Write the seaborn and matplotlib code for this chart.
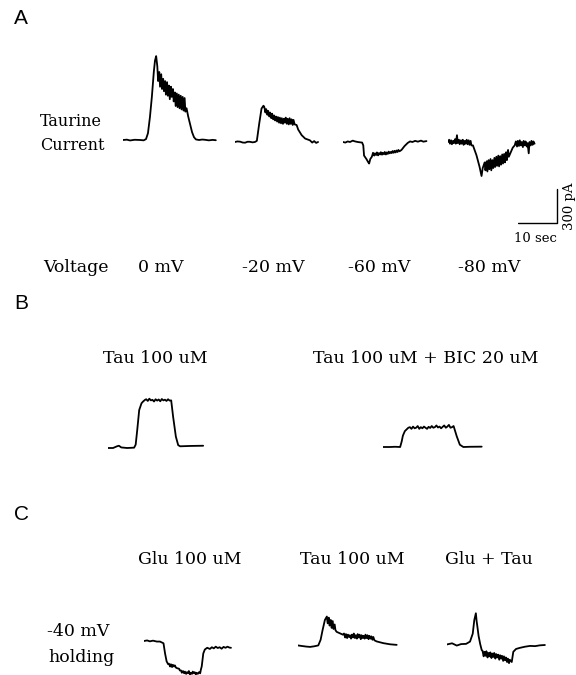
import matplotlib
matplotlib.use("Agg")
import matplotlib.pyplot as plt
import pandas as pd
import seaborn as sns

# ---------------- data (time in s, current in pA) ----------------
A_LABELS = ["0 mV", "-20 mV", "-60 mV", "-80 mV"]

A1_TRACE = [(0, 0), (1, 3), (1.8, -4), (3, 2), (4.4, 0), (5.3, -3), (5.9, 8), (6.4, 60), (6.9, 200),
            (7.4, 380), (7.9, 600), (8.2, 700), (8.5, 740), (8.7, 680),
            (8.8, 650), (9.0, 520), (9.3, 600), (9.5, 470), (9.8, 580), (10.0, 450), (10.3, 540), (10.5, 430),
            (10.8, 520), (11.0, 400), (11.3, 510), (11.5, 390), (11.8, 480), (12.0, 360), (12.3, 470),
            (12.5, 380), (12.8, 450), (13.0, 340), (13.3, 420), (13.5, 300), (13.8, 410), (14.0, 290),
            (14.3, 400), (14.5, 280), (14.8, 390), (15.0, 270), (15.3, 380), (15.5, 260), (15.8, 370),
            (16.0, 250),
            (16.3, 280), (16.7, 210), (17.2, 140), (17.7, 70), (18.2, 25), (18.7, 5), (19.5, 0), (20.3, 4),
            (21, 2), (22, -3), (23, 1), (23.8, -2)]

A2_TRACE = [(0, 0), (0.6, 5), (1.3, 3), (2, -5), (2.6, -6), (3.2, 2), (3.8, 2), (4.5, -3), (5.1, 0),
            (5.6, 10), (6.2, 160), (6.8, 295), (7.3, 320),
            (7.5, 310), (7.8, 260), (8.0, 290), (8.3, 240), (8.5, 275), (8.8, 225), (9.0, 260), (9.3, 210),
            (9.5, 250), (9.8, 200), (10.0, 235), (10.3, 190), (10.5, 225), (10.8, 180), (11.0, 220),
            (11.3, 170), (11.5, 215), (11.8, 165), (12.0, 210), (12.3, 160), (12.5, 205), (12.8, 170),
            (13.0, 215), (13.3, 160), (13.5, 205), (13.8, 155), (14.0, 210), (14.3, 160), (14.5, 200),
            (14.8, 150), (15.0, 195), (15.3, 155),
            (15.8, 150), (16.2, 110), (17.1, 60), (18.0, 30), (19.2, 15), (19.8, -5), (20.3, 8), (20.8, -8),
            (21.3, 0)]

A3_TRACE = [(0, 0), (0.6, -5), (1.2, 5), (1.8, 0), (2.5, 12), (3.1, 5), (3.8, 0), (4.4, -3), (4.9, -5),
            (5.2, -30), (5.4, -120), (6.0, -150), (6.5, -180), (6.7, -190), (7.0, -150), (7.4, -130),
            (7.7, -95), (8.0, -120), (8.2, -100), (8.5, -115), (8.7, -92), (9.0, -118), (9.2, -98),
            (9.5, -110), (9.7, -90), (10.0, -112), (10.2, -95), (10.5, -108), (10.7, -88), (11.0, -110),
            (11.2, -92), (11.5, -105), (11.7, -85), (12.0, -100), (12.2, -88), (12.5, -98), (12.7, -80),
            (13.0, -95), (13.2, -78), (13.5, -92), (13.7, -75), (14.0, -88), (14.2, -70), (14.5, -82),
            (15.0, -70), (15.8, -35), (16.6, -8), (17.2, 5), (17.8, 0), (18.5, 10), (19.2, 3), (20.0, 12),
            (20.6, 3), (21.4, 8)]

A4_TRACE = [(0, 0), (0.3, 20), (0.5, -15), (0.8, 15), (1.0, -20), (1.3, 10), (1.5, -10), (1.8, 25),
            (2.0, -15), (2.3, 60), (2.5, -10), (2.8, 20), (3.0, -20), (3.3, 15), (3.5, -15), (3.8, 20),
            (4.0, -25), (4.3, 10), (4.5, -15), (4.8, 20), (5.0, -20), (5.3, 15), (5.5, -25), (5.8, 10),
            (6.0, -30),
            (6.4, -30), (7.3, -117), (8.1, -220), (8.6, -300), (8.9, -230), (9.4, -180),
            (9.6, -250), (9.9, -170), (10.1, -260), (10.4, -160), (10.6, -240), (10.9, -150), (11.1, -250),
            (11.4, -160), (11.6, -230), (11.9, -140), (12.1, -220), (12.4, -130), (12.6, -210), (12.9, -120),
            (13.1, -215), (13.4, -125), (13.6, -200), (13.9, -110), (14.1, -190), (14.4, -105), (14.6, -180),
            (14.9, -90), (15.1, -160), (15.4, -70), (15.6, -130),
            (16.6, -50), (17.1, -30),
            (17.4, 5), (17.7, -40), (17.9, 10), (18.2, -35), (18.4, 15), (18.7, -30), (18.9, 0), (19.2, -45),
            (19.4, 10), (19.7, -30), (19.9, 5), (20.2, -40), (20.4, -10), (20.7, -100), (20.9, 0), (21.2, -30),
            (21.4, 10), (21.7, -25), (21.9, 5), (22.2, -15)]

B_LABELS = ["Tau 100 uM", "Tau 100 uM + BIC 20 uM"]

B1_TRACE = [(0, 0), (1.3, 0), (2.3, 15), (2.8, 20), (3.4, 5), (4.9, 0), (6.7, 3), (7.1, 30), (7.5, 160),
            (8.0, 335), (8.6, 395), (9.0, 410), (9.5, 425),
            (9.8, 430), (10.2, 415), (10.6, 435), (11.0, 420), (11.4, 425), (11.8, 410), (12.2, 430),
            (12.6, 418), (13.0, 428), (13.4, 412), (13.8, 432), (14.2, 420), (14.6, 426), (15.0, 415),
            (15.4, 430), (15.8, 418),
            (16.2, 420), (16.7, 275), (17.4, 100), (18.0, 25), (18.5, 15), (21.0, 18), (24.4, 20)]

B2_TRACE = [(0, 0), (1.8, 0), (3.1, 2), (4.4, 0), (4.8, 50), (5.1, 100), (5.6, 140), (6.5, 170),
            (6.9, 175), (7.3, 160), (7.7, 180), (8.1, 165), (8.5, 170), (8.9, 185), (9.3, 160), (9.7, 175),
            (10.1, 165), (10.5, 180), (10.9, 170), (11.3, 160), (11.7, 178), (12.1, 168), (12.5, 185),
            (12.9, 170), (13.3, 175), (13.7, 190), (14.1, 172), (14.5, 180), (14.9, 165), (15.3, 178),
            (15.7, 190), (16.1, 170), (16.5, 180), (16.9, 195), (17.3, 170), (17.7, 175), (18.1, 185),
            (18.9, 95), (19.7, 20), (20.6, 0), (22.3, 2), (25.3, 3)]

C_LABELS = ["Glu 100 uM", "Tau 100 uM", "Glu + Tau"]

C1_TRACE = [(0, 0), (0.8, 5), (1.5, -3), (2.3, 3), (3.3, -5), (4.1, -5), (5.0, -20), (5.4, -110),
            (5.8, -180), (6.2, -205),
            (6.4, -200), (6.7, -225), (6.9, -205), (7.2, -230), (7.4, -210), (7.7, -225), (7.9, -215),
            (8.2, -235), (8.5, -240),
            (9.0, -245), (9.2, -260),
            (9.5, -260), (9.7, -280), (10.0, -265), (10.3, -285), (10.5, -270), (10.8, -290), (11.0, -275),
            (11.3, -285), (11.5, -265), (11.8, -295), (12.0, -280), (12.3, -290), (12.5, -270), (12.8, -285),
            (13.0, -275), (13.3, -295), (13.5, -280), (13.8, -290), (14.1, -275), (14.4, -285),
            (14.6, -250), (14.8, -225), (15.2, -110), (15.6, -75), (16.2, -60),
            (16.9, -70), (17.4, -55), (17.9, -65), (18.4, -50), (18.9, -62), (19.4, -55), (19.9, -68),
            (20.4, -52), (20.9, -60), (21.4, -50), (21.9, -58), (22.3, -60)]

C2_TRACE = [(0, 5), (1.0, 0), (2.1, -5), (3.1, -8), (4.1, -3), (5.2, 5), (5.8, 55), (6.3, 140), (6.9, 230),
            (7.4, 260),
            (7.6, 200), (7.9, 250), (8.1, 180), (8.4, 230), (8.6, 160), (8.9, 220), (9.1, 150), (9.4, 190),
            (9.6, 140),
            (9.9, 125), (11.5, 100),
            (11.8, 110), (12.1, 75), (12.3, 105), (12.6, 70), (12.8, 100), (13.1, 80), (13.3, 95), (13.6, 65),
            (13.8, 100), (14.1, 75), (14.3, 110), (14.6, 70), (14.8, 95), (15.1, 65), (15.3, 105), (15.6, 75),
            (15.8, 100), (16.1, 60), (16.3, 95), (16.6, 70), (16.8, 90), (17.1, 65), (17.3, 100), (17.6, 70),
            (17.8, 95), (18.1, 60), (18.3, 90), (18.6, 65), (18.8, 85), (19.1, 55), (19.3, 80), (19.6, 50),
            (20.2, 40), (21.9, 25), (23.6, 15), (25.3, 10)]

C3_TRACE = [(0, 5), (1.3, 15), (2.5, -5), (3.6, 8), (4.9, 10), (5.9, 30), (6.6, 100), (7.0, 220), (7.4, 280),
            (7.6, 210), (7.8, 160), (8.1, 80), (8.5, 10), (8.9, -45),
            (9.1, -50), (9.4, -100), (9.6, -60), (9.9, -95), (10.1, -55), (10.4, -110), (10.6, -70),
            (10.9, -100), (11.1, -65), (11.4, -115), (11.6, -75), (11.9, -105), (12.1, -70), (12.4, -120),
            (12.6, -80), (12.9, -110), (13.1, -85), (13.4, -130), (13.6, -90), (13.9, -120), (14.1, -95),
            (14.4, -140), (14.6, -100), (14.9, -135), (15.1, -110), (15.4, -150), (15.6, -120), (15.9, -160),
            (16.1, -130),
            (16.6, -150), (17.0, -60), (17.7, -35), (18.7, -25), (20.0, -15), (21.3, -8), (22.6, -10),
            (23.8, -3), (25.1, 0)]

SCALE_T = 10     # s
SCALE_I = 300    # pA

# ---------------- layout ----------------
W, H = 576, 675
PX_PER_S = 3.9
PA_PER_PX = 8.82
LW = 1.3

sns.set_theme(style="white")
plt.rcParams["font.family"] = ["DejaVu Serif"]
plt.rcParams["text.color"] = "black"

fig = plt.figure(figsize=(W / 100, H / 100), dpi=100)


def trace_axes(x0, yb, span=120, up=110, down=110):
    ax = fig.add_axes([x0 / W, (H - yb - down) / H, span / W, (up + down) / H])
    ax.set_xlim(0, span / PX_PER_S)
    ax.set_ylim(-down * PA_PER_PX, up * PA_PER_PX)
    ax.axis("off")
    return ax


def draw_trace(pairs, x0, yb):
    df = pd.DataFrame(pairs, columns=["t", "pA"])
    ax = trace_axes(x0, yb)
    sns.lineplot(data=df, x="t", y="pA", ax=ax, color="black", lw=LW,
                 estimator=None, sort=False)
    return ax


def txt(x, y, s, **kw):
    kw.setdefault("fontsize", 12.5)
    kw.setdefault("va", "center")
    kw.setdefault("color", "black")
    fig.text(x / W, 1 - y / H, s, **kw)


# panel A
draw_trace(A1_TRACE, 123, 140)
draw_trace(A2_TRACE, 235, 142)
draw_trace(A3_TRACE, 343, 142)
draw_trace(A4_TRACE, 448, 142)

# scale bar
sb = pd.DataFrame({"t": [0, SCALE_T, SCALE_T], "pA": [0, 0, SCALE_I]})
ax_sb = trace_axes(518, 223)
sns.lineplot(data=sb, x="t", y="pA", ax=ax_sb, color="black", lw=1.0,
             estimator=None, sort=False)
txt(535, 238, f"{SCALE_T} sec", fontsize=9.5, ha="center")
txt(569, 206, f"{SCALE_I} pA", fontsize=9.5, ha="center", rotation=90)

# panel B
draw_trace(B1_TRACE, 108, 448)
draw_trace(B2_TRACE, 383, 447)

# panel C
draw_trace(C1_TRACE, 144, 641)
draw_trace(C2_TRACE, 298, 646)
draw_trace(C3_TRACE, 447, 645)

# texts
for lab, y in zip(["A", "B", "C"], [18, 304, 515]):
    txt(14, y, lab, fontsize=15, ha="left", family=["Liberation Sans", "DejaVu Sans"])

txt(40, 121, "Taurine", ha="left", fontsize=11.5)
txt(40, 146, "Current", ha="left", fontsize=11.5)

txt(43, 267, "Voltage", ha="left")
for lab, xc in zip(A_LABELS, [161, 273, 379, 489]):
    txt(xc, 267, lab, ha="center")

txt(103, 359, B_LABELS[0], ha="left")
txt(313, 359, B_LABELS[1], ha="left")

for lab, x in zip(C_LABELS, [138, 300, 445]):
    txt(x, 559, lab, ha="left")

txt(47, 632, "-40 mV", ha="left")
txt(48, 657, "holding", ha="left")

fig.savefig("out.png", dpi=100, facecolor="white")
